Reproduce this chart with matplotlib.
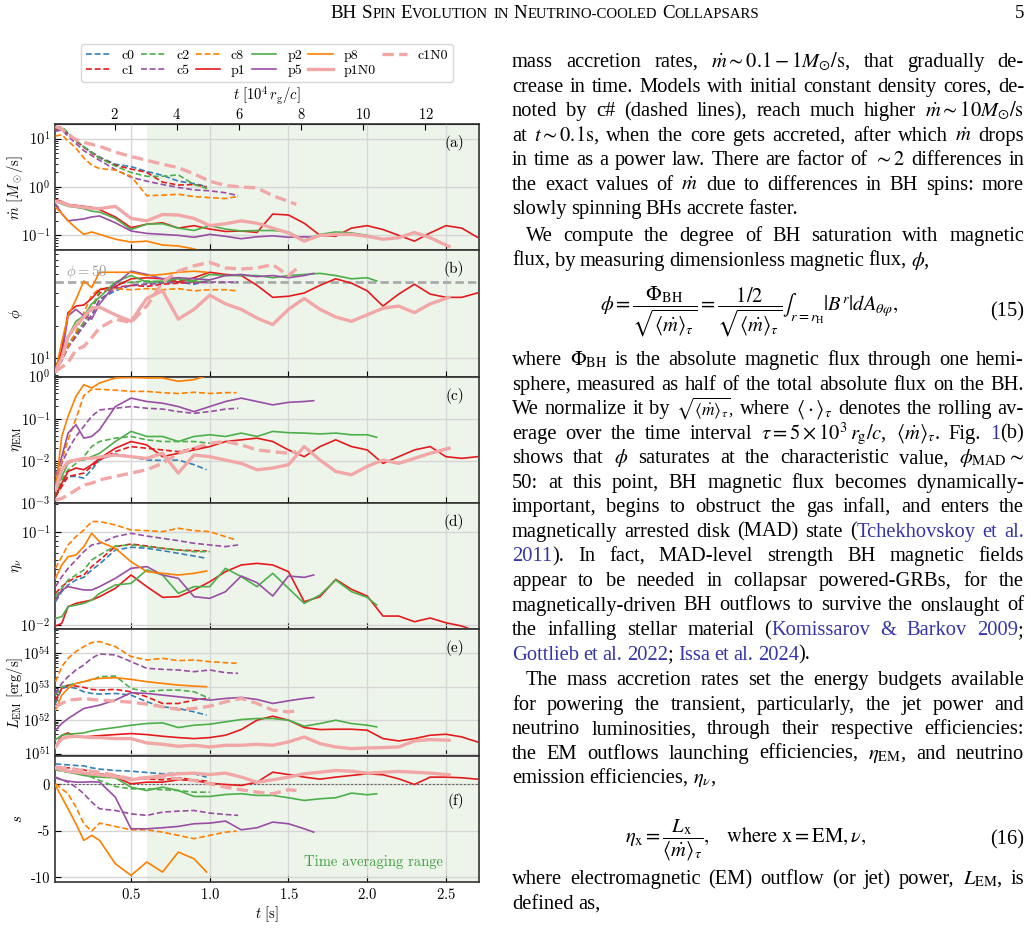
import re
import matplotlib
matplotlib.use("Agg")
import numpy as np
import matplotlib.pyplot as plt
from matplotlib.lines import Line2D

plt.rcParams["font.family"] = "serif"
plt.rcParams["font.serif"] = ["cmr10"]
plt.rcParams["mathtext.fontset"] = "cm"
plt.rcParams["axes.unicode_minus"] = False
plt.rcParams["axes.formatter.use_mathtext"] = True

W, H = 1031, 939

# ---------------- data ----------------
models = ["c0", "c1", "c2", "c5", "c8", "p1", "p2", "p5", "p8", "p1N0", "c1N0"]
t_end = [0.98, 0.98, 1.0, 1.18, 1.17, 2.7, 2.06, 1.66, 0.98, 2.52, 1.55]
t_base = [0.02, 0.06, 0.1, 0.15, 0.2, 0.25, 0.3, 0.4, 0.5, 0.6, 0.7, 0.8, 0.9,
          1.0, 1.1, 1.2, 1.3, 1.4, 1.5, 1.6, 1.7, 1.8, 1.9, 2.0, 2.1, 2.2, 2.3,
          2.4, 2.5, 2.6, 2.7]

# (a) log10 mdot [Msun/s]
mdot_c0 = [1.18, 1.2, 1.1, 0.95, 0.83, 0.72, 0.62, 0.47, 0.42, 0.32, 0.24, 0.12, 0.07, 0.01]
mdot_c1 = [1.2, 1.22, 1.1, 0.95, 0.82, 0.7, 0.6, 0.45, 0.37, 0.3, 0.1, 0.04, 0.05, 0.0]
mdot_c2 = [1.22, 1.25, 1.12, 0.97, 0.83, 0.7, 0.6, 0.43, 0.3, 0.22, 0.22, 0.25, 0.05, -0.05]
mdot_c5 = [1.15, 1.18, 1.05, 0.9, 0.75, 0.65, 0.55, 0.36, 0.2, 0.12, 0.05, -0.01, -0.06, -0.08, -0.12, -0.18]
mdot_c8 = [1.05, 1.08, 0.95, 0.8, 0.6, 0.45, 0.38, 0.35, 0.22, -0.18, -0.17, -0.15, -0.2, -0.22, -0.24, -0.2]
mdot_p1 = [-0.26, -0.3, -0.36, -0.38, -0.40, -0.42, -0.47, -0.62, -0.84, -0.77, -0.74, -0.85, -0.8, -0.87,
           -0.92, -0.91, -0.94, -0.56, -0.58, -0.75, -1.0, -1.02, -0.85, -0.8, -0.88, -1.0, -1.12, -0.95,
           -0.8, -0.85, -1.04]
mdot_p2 = [-0.3, -0.35, -0.4, -0.42, -0.45, -0.5, -0.52, -0.65, -0.88, -0.77, -0.76, -0.85, -0.9, -0.8,
           -0.87, -0.91, -0.9, -0.9, -0.93, -1.1, -0.98, -0.93, -0.95, -1.0, -1.05]
mdot_p5 = [-0.35, -0.55, -0.7, -0.68, -0.66, -0.62, -0.6, -0.74, -0.91, -0.96, -0.98, -1.0, -1.04, -0.98,
           -1.02, -1.07, -1.03, -1.01, -1.04, -1.03, -1.04]
mdot_p8 = [-0.42, -0.55, -0.7, -0.85, -0.98, -0.93, -0.98, -1.08, -1.14, -1.12, -1.2, -1.22, -1.28, -1.38]
mdot_p1N0 = [-0.3, -0.32, -0.38, -0.4, -0.42, -0.44, -0.45, -0.4, -0.65, -0.7, -0.57, -0.58, -0.65, -0.8,
             -0.76, -0.7, -0.75, -0.85, -0.95, -1.12, -1.0, -0.98, -0.98, -1.02, -1.08, -1.05, -0.94,
             -1.05, -1.23]
mdot_c1N0 = [1.25, 1.2, 1.08, 0.98, 0.92, 0.88, 0.84, 0.72, 0.63, 0.55, 0.47, 0.4, 0.27, 0.12, 0.03, 0.0,
             -0.02, -0.18, -0.3, -0.36]

# (b) log10 phi
phi_c0 = [0.88, 0.98, 1.11, 1.2, 1.3, 1.39, 1.54, 1.62, 1.67, 1.68, 1.70, 1.70, 1.68, 1.71]
phi_c1 = [0.88, 0.99, 1.12, 1.22, 1.33, 1.45, 1.60, 1.65, 1.67, 1.66, 1.68, 1.69, 1.70, 1.70]
phi_c2 = [0.88, 1.0, 1.13, 1.23, 1.33, 1.46, 1.62, 1.68, 1.70, 1.71, 1.70, 1.72, 1.70, 1.71]
phi_c5 = [0.88, 0.98, 1.1, 1.2, 1.3, 1.4, 1.54, 1.64, 1.67, 1.68, 1.69, 1.70, 1.69, 1.70, 1.70, 1.70]
phi_c8 = [0.88, 0.99, 1.11, 1.24, 1.42, 1.58, 1.64, 1.64, 1.63, 1.64, 1.63, 1.64, 1.62, 1.63, 1.63, 1.62]
phi_p1 = [0.88, 1.08, 1.42, 1.48, 1.49, 1.55, 1.63, 1.66, 1.73, 1.74, 1.73, 1.70, 1.74, 1.79, 1.77, 1.76,
          1.67, 1.56, 1.57, 1.60, 1.67, 1.73, 1.69, 1.62, 1.48, 1.59, 1.68, 1.59, 1.56, 1.56, 1.60]
phi_p2 = [0.88, 1.02, 1.2, 1.34, 1.39, 1.5, 1.56, 1.7, 1.76, 1.7, 1.71, 1.73, 1.71, 1.77, 1.76, 1.76, 1.76,
          1.74, 1.76, 1.77, 1.78, 1.76, 1.73, 1.74, 1.71]
phi_p5 = [0.88, 1.02, 1.39, 1.45, 1.39, 1.36, 1.5, 1.68, 1.80, 1.77, 1.73, 1.74, 1.73, 1.72, 1.76, 1.77,
          1.75, 1.76, 1.74, 1.76, 1.78]
phi_p8 = [0.88, 1.15, 1.39, 1.54, 1.71, 1.65, 1.79, 1.79, 1.79, 1.76, 1.77, 1.79, 1.80, 1.79]
phi_p1N0 = [0.88, 1.0, 1.2, 1.3, 1.38, 1.46, 1.47, 1.4, 1.34, 1.55, 1.62, 1.36, 1.45, 1.58, 1.5, 1.45, 1.37,
            1.31, 1.45, 1.55, 1.45, 1.38, 1.34, 1.4, 1.46, 1.48, 1.42, 1.5, 1.56]
phi_c1N0 = [0.88, 0.92, 0.96, 1.08, 1.11, 1.19, 1.28, 1.36, 1.33, 1.48, 1.70, 1.80, 1.85, 1.88, 1.83, 1.82,
            1.83, 1.86, 1.76, 1.82]

# (c) log10 eta_EM
eem_c0 = [-2.85, -2.53, -2.37, -2.37, -2.41, -2.21, -1.98, -1.83, -1.90, -1.98, -1.99, -1.98, -2.09, -2.21]
eem_c1 = [-2.85, -2.61, -2.37, -2.33, -2.29, -2.13, -1.98, -1.78, -1.66, -1.70, -1.74, -1.78, -1.70, -1.66]
eem_c2 = [-2.85, -2.45, -2.21, -2.06, -1.90, -1.66, -1.54, -1.46, -1.42, -1.50, -1.54, -1.54, -1.54, -1.58]
eem_c5 = [-2.53, -2.06, -1.74, -1.42, -1.18, -0.94, -0.79, -0.75, -0.71, -0.75, -0.77, -0.83, -0.87, -0.83,
          -0.77, -0.75]
eem_c8 = [-2.7, -2.0, -1.5, -1.0, -0.45, -0.3, -0.3, -0.32, -0.35, -0.35, -0.38, -0.4, -0.37, -0.4, -0.38, -0.38]
eem_p1 = [-2.85, -2.53, -2.25, -2.17, -2.21, -2.09, -1.94, -1.70, -1.54, -1.62, -1.90, -1.82, -1.74, -1.66,
          -1.54, -1.50, -1.46, -1.54, -1.74, -1.90, -1.66, -1.50, -1.66, -1.74, -2.06, -1.90, -1.74, -1.66,
          -1.90, -1.94, -1.90]
eem_p2 = [-2.69, -2.37, -2.06, -1.98, -1.98, -1.90, -1.82, -1.54, -1.30, -1.42, -1.42, -1.54, -1.42, -1.38,
          -1.42, -1.34, -1.42, -1.30, -1.33, -1.34, -1.36, -1.34, -1.38, -1.38, -1.44]
eem_p5 = [-2.37, -1.90, -1.34, -1.14, -1.46, -1.42, -1.26, -0.71, -0.51, -0.59, -0.63, -0.71, -0.83, -0.71,
          -0.59, -0.51, -0.59, -0.67, -0.61, -0.59, -0.57]
eem_p8 = [-2.69, -1.42, -0.94, -0.47, -0.19, -0.27, -0.15, -0.03, -0.02, -0.03, -0.03, -0.11, -0.07, 0.02]
eem_p1N0 = [-2.69, -2.21, -2.02, -1.98, -1.94, -1.94, -1.91, -1.86, -1.90, -1.94, -1.82, -2.29, -1.86, -1.90,
            -1.98, -2.06, -2.21, -2.17, -2.09, -1.66, -1.98, -2.25, -2.33, -2.13, -1.98, -2.06, -1.94,
            -1.82, -1.70]
eem_c1N0 = [-2.93, -2.89, -2.81, -2.69, -2.57, -2.53, -2.45, -2.37, -2.29, -2.21, -2.06, -1.82, -1.70, -1.58,
            -1.54, -1.62, -1.74, -1.78, -1.82, -1.78]

# (d) log10 eta_nu (the N0 runs have none)
enu_c0 = [-1.749, -1.641, -1.569, -1.516, -1.487, -1.408, -1.344, -1.193, -1.164, -1.175, -1.200, -1.229,
          -1.258, -1.283]
enu_c1 = [-1.659, -1.587, -1.534, -1.487, -1.462, -1.372, -1.301, -1.157, -1.129, -1.150, -1.175, -1.193,
          -1.200, -1.204]
enu_c2 = [-1.695, -1.605, -1.516, -1.462, -1.408, -1.301, -1.247, -1.150, -1.139, -1.157, -1.175, -1.193,
          -1.211, -1.211]
enu_c5 = [-1.587, -1.480, -1.390, -1.301, -1.211, -1.139, -1.121, -1.050, -1.014, -1.043, -1.068, -1.093,
          -1.121, -1.139, -1.157, -1.139]
enu_c8 = [-1.390, -1.265, -1.139, -1.050, -0.978, -0.888, -0.888, -0.924, -0.978, -0.985, -0.996, -0.960,
          -0.985, -0.996, -1.050, -1.086]
enu_p1 = [-2.010, -1.982, -1.802, -1.767, -1.749, -1.731, -1.695, -1.605, -1.462, -1.587, -1.702, -1.695,
          -1.623, -1.534, -1.426, -1.354, -1.337, -1.354, -1.426, -1.749, -1.695, -1.509, -1.616, -1.688,
          -1.903, -1.903, -1.964, -1.924, -1.975, -2.010, -2.071]
enu_p2 = [-1.928, -1.910, -1.802, -1.785, -1.767, -1.731, -1.659, -1.569, -1.552, -1.408, -1.462, -1.659,
          -1.587, -1.587, -1.390, -1.480, -1.587, -1.444, -1.605, -1.767, -1.677, -1.516, -1.641, -1.702,
          -1.785]
enu_p5 = [-1.731, -1.623, -1.587, -1.605, -1.623, -1.623, -1.587, -1.498, -1.390, -1.372, -1.462, -1.498,
          -1.695, -1.713, -1.641, -1.473, -1.544, -1.688, -1.473, -1.487, -1.462]
enu_p8 = [-1.498, -1.354, -1.265, -1.247, -1.157, -1.014, -1.104, -1.175, -1.319, -1.426, -1.444, -1.462,
          -1.444, -1.419]

# (e) log10 L_EM [erg/s]
lem_c0 = [52.5, 52.95, 53.0, 52.95, 52.85, 52.8, 52.78, 52.8, 52.75, 52.55, 52.4, 52.35, 52.25, 52.15]
lem_c1 = [52.6, 52.95, 53.05, 53.02, 52.98, 52.92, 52.9, 52.92, 52.85, 52.7, 52.5, 52.5, 52.6, 52.65]
lem_c2 = [52.75, 53.0, 53.05, 53.1, 53.15, 53.2, 53.3, 53.32, 52.95, 52.85, 52.9, 52.9, 52.85, 52.65]
lem_c5 = [52.8, 53.1, 53.3, 53.5, 53.65, 53.85, 53.98, 53.95, 53.75, 53.55, 53.52, 53.5, 53.45, 53.5,
          53.42, 53.4]
lem_c8 = [53.15, 53.6, 53.85, 54.05, 54.2, 54.32, 54.35, 54.2, 53.9, 53.8, 53.85, 53.78, 53.8, 53.75,
          53.72, 53.7]
lem_p1 = [51.2, 51.55, 51.62, 51.5, 51.5, 51.52, 51.54, 51.57, 51.6, 51.57, 51.52, 51.48, 51.45, 51.48,
          51.55, 51.72, 52.0, 52.12, 52.0, 51.78, 51.72, 51.73, 51.73, 51.7, 51.45, 51.38, 51.45, 51.55,
          51.58, 51.5, 51.35]
lem_p2 = [51.42, 51.55, 51.58, 51.6, 51.62, 51.68, 51.72, 51.78, 51.85, 51.9, 51.92, 51.78, 51.85, 51.88,
          51.95, 52.02, 52.05, 52.05, 52.0, 51.82, 51.9, 52.0, 51.9, 51.85, 51.8]
lem_p5 = [51.7, 51.9, 52.05, 52.2, 52.35, 52.4, 52.45, 52.6, 52.82, 52.8, 52.75, 52.7, 52.65, 52.6, 52.65,
          52.68, 52.62, 52.5, 52.58, 52.65, 52.68]
lem_p8 = [52.3, 52.75, 52.95, 53.1, 53.15, 53.22, 53.25, 53.27, 53.22, 53.15, 53.1, 53.05, 53.02, 53.0]
lem_p1N0 = [51.2, 51.45, 51.5, 51.52, 51.5, 51.48, 51.48, 51.45, 51.45, 51.32, 51.28, 51.22, 51.25, 51.2,
            51.25, 51.25, 51.28, 51.25, 51.35, 51.5, 51.3, 51.2, 51.15, 51.17, 51.18, 51.2, 51.38, 51.42,
            51.4]
lem_c1N0 = [52.4, 52.5, 52.6, 52.62, 52.65, 52.62, 52.6, 52.57, 52.54, 52.48, 52.4, 52.32, 52.35, 52.42,
            52.55, 52.65, 52.5, 52.3, 52.25, 52.28]

# (f) spin-up parameter s
s_c0 = [2.22, 2.15, 2.11, 2.04, 2.0, 1.79, 1.65, 1.50, 1.43, 1.29, 1.15, 1.22, 1.15, 0.79]
s_c1 = [1.93, 1.86, 1.79, 1.68, 1.58, 1.32, 1.15, 0.97, 0.61, 0.61, 0.5, 0.72, 0.5, 0.36]
s_c2 = [1.58, 1.43, 1.32, 1.22, 1.07, 0.79, 0.43, -0.22, -0.47, -0.47, -0.57, -0.65, -0.83, -0.83]
s_c5 = [0.72, 0.5, 0.25, -0.29, -1.0, -1.9, -2.62, -2.80, -3.16, -3.33, -2.98, -2.87, -2.80, -3.08,
        -3.23, -3.33]
s_c8 = [0.07, -0.47, -1.0, -2.44, -4.23, -5.02, -4.16, -4.52, -4.88, -4.88, -5.13, -5.48, -5.84, -5.48,
        -5.13, -5.02]
s_p1 = [1.86, 1.68, 1.43, 1.22, 1.15, 1.07, 0.97, 0.79, 0.07, 0.25, 0.25, 0.5, 0.43, 0.14, 0.0, -0.11, 0.25,
        1.32, 1.07, 0.79, 0.57, 0.79, 0.97, 1.15, 1.04, 0.61, 0.0, 0.79, 0.79, 0.72, 0.57]
s_p2 = [1.68, 1.5, 1.32, 1.15, 0.97, 0.86, 0.79, 0.72, -0.29, -0.65, -0.29, -0.65, -1.29, -1.29, -1.08, -1.0,
        -1.18, -1.18, -1.43, -1.72, -1.54, -1.43, -0.93, -1.11, -1.0]
s_p5 = [0.79, 0.5, 0.36, 0.25, 0.25, 0.29, 0.25, -1.36, -4.77, -4.77, -4.66, -4.52, -4.23, -4.16, -3.94,
        -4.88, -4.66, -4.05, -4.23, -4.77, -5.13]
s_p8 = [-0.11, -1.36, -2.62, -4.23, -6.02, -5.48, -6.02, -8.53, -9.79, -8.35, -9.43, -7.28, -8.0, -9.43]
s_p1N0 = [1.79, 1.58, 1.43, 1.32, 1.22, 1.15, 1.04, 0.86, 0.5, 0.72, 0.97, 1.15, 1.22, 1.07, 1.22, 0.79, 0.25,
          0.5, 0.79, 1.15, 1.32, 1.50, 1.43, 1.22, 1.32, 1.40, 1.32, 1.22, 1.04]
s_c1N0 = [1.86, 1.79, 1.68, 1.58, 1.50, 1.43, 1.32, 0.97, 0.61, 0.72, 0.79, 0.61, 0.43, 0.07, -0.29, -0.57,
          -0.83, -1.0, -0.57, -0.65]

# ---------------- styles ----------------
colors = ["#377eb8", "#e41a1c", "#4daf4a", "#984ea3", "#ff7f00",
          "#e41a1c", "#4daf4a", "#984ea3", "#ff7f00", "#f2a7a7", "#f2a7a7"]
dash_thin = (0, (3.5, 1.7))
dash_thick = (0, (3.4, 1.6))


def style(name):
    if name.endswith("N0"):
        ls = dash_thick if name.startswith("c") else "-"
        return dict(ls=ls, lw=2.4)
    ls = dash_thin if name.startswith("c") else "-"
    return dict(ls=ls, lw=1.2)


times = [[t for t in t_base if t < e - 0.03] + [e] for e in t_end]

mdot = [mdot_c0, mdot_c1, mdot_c2, mdot_c5, mdot_c8, mdot_p1, mdot_p2, mdot_p5, mdot_p8, mdot_p1N0, mdot_c1N0]
phi = [phi_c0, phi_c1, phi_c2, phi_c5, phi_c8, phi_p1, phi_p2, phi_p5, phi_p8, phi_p1N0, phi_c1N0]
eta_em = [eem_c0, eem_c1, eem_c2, eem_c5, eem_c8, eem_p1, eem_p2, eem_p5, eem_p8, eem_p1N0, eem_c1N0]
eta_nu = [enu_c0, enu_c1, enu_c2, enu_c5, enu_c8, enu_p1, enu_p2, enu_p5, enu_p8, None, None]
l_em = [lem_c0, lem_c1, lem_c2, lem_c5, lem_c8, lem_p1, lem_p2, lem_p5, lem_p8, lem_p1N0, lem_c1N0]
spin = [s_c0, s_c1, s_c2, s_c5, s_c8, s_p1, s_p2, s_p5, s_p8, s_p1N0, s_c1N0]

panels = [
    (mdot, True, (0.049, 20), r"$\dot{m}\ [M_\odot/{\rm s}]$", "(a)", 0.85),
    (phi, True, (6.8, 98), r"$\phi$", "(b)", 0.85),
    (eta_em, True, (1e-3, 1), r"$\eta_{\rm EM}$", "(c)", 0.85),
    (eta_nu, True, (0.009, 0.205), r"$\eta_\nu$", "(d)", 0.85),
    (l_em, True, (8.7e50, 5.2e54), r"$L_{\rm EM}\ [{\rm erg/s}]$", "(e)", 0.85),
    (spin, False, (-10.5, 3.1), r"$s$", "(f)", 0.645),
]

fig = plt.figure(figsize=(W / 100, H / 100), dpi=100)
gs = fig.add_gridspec(6, 1, left=55 / W, right=479 / W, top=1 - 124 / H, bottom=1 - 882 / H, hspace=0)
axes = []
for i in range(6):
    axes.append(fig.add_subplot(gs[i], sharex=axes[0] if axes else None))

for ax, (data, logy, ylim, ylabel, tag, tag_y) in zip(axes, panels):
    ax.axvspan(0.6, 3.0, color="#edf5eb", lw=0, zorder=0)
    for j, name in enumerate(models):
        vals = data[j]
        if vals is None:
            continue
        y = np.power(10.0, vals) if logy else np.array(vals)
        ax.plot(times[j], y, color=colors[j], zorder=3, **style(name))
    if logy:
        ax.set_yscale("log")
    ax.set_ylim(ylim)
    ax.set_xlim(0.017, 2.71)
    ax.set_xticks([0.5, 1.0, 1.5, 2.0, 2.5])
    ax.grid(True, which="major", color="#d6d6d6", lw=1.0)
    ax.set_axisbelow(True)
    ax.set_ylabel(ylabel, fontsize=10.5)
    ax.yaxis.set_label_coords(-0.07, 0.5)
    ax.tick_params(which="both", direction="in", labelsize=10.5, top=False, right=False)
    ax.tick_params(which="major", length=4)
    ax.tick_params(which="minor", length=2)
    for sp in ax.spines.values():
        sp.set_linewidth(1.2)
        sp.set_color("#333333")
    ax.text(0.965, tag_y, tag, transform=ax.transAxes, ha="right", va="center", fontsize=11)
    if ax is not axes[-1]:
        ax.tick_params(labelbottom=False)

# extras
axes[1].axhline(50, color="#aaaaaa", lw=2, ls=(0, (3, 1.5)), zorder=2)
axes[1].text(0.09, 62, r"$\phi = 50$", color="#9a9a9a", fontsize=10.5, va="center")
axes[5].axhline(0, color="#666666", lw=0.8, ls=(0, (2, 1.5)), zorder=2)
axes[5].set_yticks([-10, -5, 0])
axes[5].set_yticklabels(["-10", "-5", "0"])
axes[5].text(2.04, -8.4, "Time averaging range", color="#3f9e3f", fontsize=10.5, ha="center", va="center")
axes[5].set_xlabel(r"$t\ [{\rm s}]$", fontsize=10.5, labelpad=2)

sec = axes[0].secondary_xaxis("top", functions=(lambda t: t / 0.1975, lambda x: x * 0.1975))
sec.set_xticks([2, 4, 6, 8, 10, 12])
sec.tick_params(direction="in", labelsize=10.5, length=4, pad=1.5)
sec.set_xlabel(r"$t\ [10^4\,r_{\rm g}/c]$", fontsize=10.5, labelpad=5)

handles = [Line2D([], [], color=colors[j], **style(n)) for j, n in enumerate(models)]
fig.legend(handles, models, loc="center", bbox_to_anchor=(267 / W, 1 - 63 / H), ncol=6, fontsize=10,
           frameon=True, fancybox=True, edgecolor="#cccccc", handlelength=1.75, columnspacing=0.45,
           labelspacing=0.15, borderpad=0.35, handletextpad=0.8)

# ---------------- page text ----------------
renderer = fig.canvas.get_renderer()
BODY = dict(fontsize=14.8, family="Liberation Serif", math_fontfamily="stix")
CITE = "#3535a8"
TOKEN = re.compile(r"(?:\$[^$]*\$|[^\s$])+")


def put_line(line, y, indent=0, justify=True, x0=512, x1=1024):
    items = []
    for word in TOKEN.findall(line):
        pieces = []
        parts = word.split("|") if "$" not in word else [word]
        for p in parts:
            col = CITE if p.startswith("§") else "black"
            kw = dict(BODY)
            if p.startswith("¤"):      # smaller inline radical
                kw["fontsize"] = 12.5
            t = fig.text(0, 1 - y / H, p.lstrip("§¤"), color=col, va="baseline", **kw)
            pieces.append((t, t.get_window_extent(renderer).width))
        items.append(pieces)
    widths = [sum(w for _, w in pcs) for pcs in items]
    gap = 4.4
    if justify and len(items) > 1:
        gap = (x1 - x0 - indent - sum(widths)) / (len(items) - 1)
    x = x0 + indent
    for pcs in items:
        for t, w in pcs:
            t.set_x(x / W)
            x += w
        x += gap


def put_smallcaps(words, xc, y, gap=5):
    objs = []
    for word in words:
        row = []
        for s, size in word:
            t = fig.text(0, 1 - y / H, s, fontsize=size, family="Liberation Serif", va="baseline")
            row.append((t, t.get_window_extent(renderer).width))
        objs.append(row)
    total = sum(w for row in objs for _, w in row) + gap * (len(objs) - 1)
    x = xc - total / 2
    for row in objs:
        for t, w in row:
            t.set_x(x / W)
            x += w
        x += gap


big, small = 13.6, 10.6
put_smallcaps([[("BH", big)], [("S", big), ("PIN", small)], [("E", big), ("VOLUTION", small)],
               [("IN", small)], [("N", big), ("EUTRINO-COOLED", small)], [("C", big), ("OLLAPSARS", small)]],
              545, 18)
fig.text(1024 / W, 1 - 18 / H, "5", ha="right", va="baseline", fontsize=13.6, family="Liberation Serif")

para1 = [
    r"mass accretion rates, $\dot{m}\sim0.1-1M_{\odot}/{\rm s}$, that gradually de-",
    "crease in time. Models with initial constant density cores, de-",
    r"noted by c# (dashed lines), reach much higher $\dot{m}\sim10M_{\odot}/{\rm s}$",
    r"at $t\sim0.1{\rm s}$, when the core gets accreted, after which $\dot{m}$ drops",
    r"in time as a power law. There are factor of $\sim2$ differences in",
    r"the exact values of $\dot{m}$ due to differences in BH spins: more",
    "slowly spinning BHs accrete faster.",
]
para2 = [
    "We compute the degree of BH saturation with magnetic",
    r"flux, by measuring dimensionless magnetic flux, $\phi$,",
]
para3 = [
    r"where $\Phi_{\rm BH}$ is the absolute magnetic flux through one hemi-",
    "sphere, measured as half of the total absolute flux on the BH.",
    r"We normalize it by ¤$\sqrt{\langle\dot{m}\rangle_\tau}$, where $\langle\cdot\rangle_\tau$ denotes the rolling av-",
    r"erage over the time interval $\tau=5\times10^3\,r_{\rm g}/c$, $\langle\dot{m}\rangle_\tau$. Fig. §1|(b)",
    r"shows that $\phi$ saturates at the characteristic value, $\phi_{\rm MAD}\sim$",
    "50: at this point, BH magnetic flux becomes dynamically-",
    "important, begins to obstruct the gas infall, and enters the",
    "magnetically arrested disk (MAD) state (|§Tchekhovskoy §et §al.",
    "§2011|). In fact, MAD-level strength BH magnetic fields",
    "appear to be needed in collapsar powered-GRBs, for the",
    "magnetically-driven BH outflows to survive the onslaught of",
    "the infalling stellar material (|§Komissarov §& §Barkov §2009|;",
    "§Gottlieb §et §al. §2022|; §Issa §et §al. §2024|).",
]
para4 = [
    "The mass accretion rates set the energy budgets available",
    "for powering the transient, particularly, the jet power and",
    "neutrino luminosities, through their respective efficiencies:",
    r"the EM outflows launching efficiencies, $\eta_{\rm EM}$, and neutrino",
    r"emission efficiencies, $\eta_\nu$,",
]
para5 = [
    r"where electromagnetic (EM) outflow (or jet) power, $L_{\rm EM}$, is",
    "defined as,",
]

step = 24.55
for para, y0, indent in [(para1, 67, 0), (para2, 241, 14), (para3, 365, 0), (para4, 685, 14),
                         (para5, 884, 0)]:
    for k, line in enumerate(para):
        put_line(line, y0 + k * step, indent=indent if k == 0 else 0, justify=k < len(para) - 1)

eq15 = (r"$\phi=\dfrac{\Phi_{\rm BH}}{\sqrt{\langle\dot{m}\rangle_\tau}}="
        r"\dfrac{1/2}{\sqrt{\langle\dot{m}\rangle_\tau}}\int_{r=r_{\rm H}}|B^r|dA_{\theta\varphi},$")
fig.text(600 / W, 1 - 312 / H, eq15, va="center", ha="left", **BODY)
fig.text(1024 / W, 1 - 312 / H, "(15)", va="center", ha="right", **BODY)
eq16 = r"$\eta_{\rm x}=\dfrac{L_{\rm x}}{\langle\dot{m}\rangle_\tau},\quad{\rm where}\ {\rm x}={\rm EM},\nu,$"
fig.text(625 / W, 1 - 840 / H, eq16, va="center", ha="left", **BODY)
fig.text(1024 / W, 1 - 840 / H, "(16)", va="center", ha="right", **BODY)

fig.savefig("out.png", dpi=100)
